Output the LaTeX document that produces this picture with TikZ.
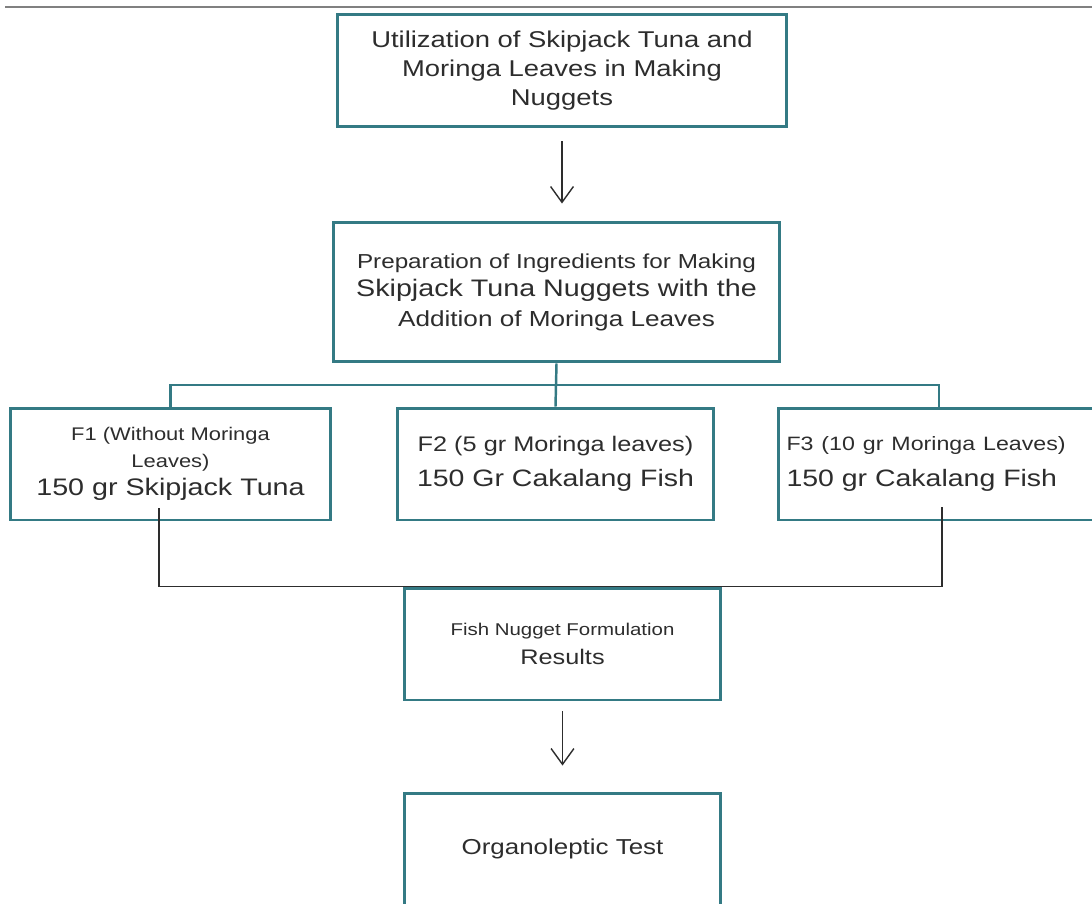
\documentclass[tikz,border=0pt]{standalone}
\usepackage{fontspec}
\setmainfont{Liberation Sans}[FakeStretch=1.2]
\usepackage{tikz}
\usetikzlibrary{arrows.meta}
\usetikzlibrary{calc}
\definecolor{boxteal}{RGB}{52,122,132}
\definecolor{inkgray}{RGB}{45,45,45}

\begin{document}
\begin{tikzpicture}[x=0.02cm,y=-0.02cm,
  flowbox/.style={draw=boxteal, line width=1.7pt, fill=white, align=center, inner sep=0pt, text=inkgray},
  busline/.style={boxteal, line width=1.4pt},
  mergeline/.style={inkgray, line width=0.8pt},
  downarrow/.style={inkgray, line width=0.8pt, -{Straight Barb[length=9pt,width=13pt]}}]
\clip (0,0) rectangle (1092,903);
\fill[white] (0,0) rectangle (1092,903);
\draw[gray, line width=1.2pt] (5,7) -- (1092,7);

% boxes
\node[flowbox, minimum width=9cm, minimum height=2.26cm, font=\fontsize{13}{16.5}\selectfont] (utiliz) at (562,70.5)
  {Utilization of Skipjack Tuna and\\ Moringa Leaves in Making\\ Nuggets};
\node[flowbox, minimum width=8.94cm, minimum height=2.8cm, font=\fontsize{13.6}{16}\selectfont] (prep) at (556.5,292)
  {{\fontsize{11.5}{14}\selectfont Preparation of Ingredients for Making}\\ Skipjack Tuna Nuggets with the\\[1pt] {\fontsize{12.4}{15}\selectfont Addition of Moringa Leaves}};
\node[flowbox, minimum width=6.42cm, minimum height=2.24cm, font=\fontsize{13.6}{15}\selectfont] (f1) at (170.5,464)
  {{\fontsize{10.4}{14}\selectfont F1 (Without Moringa}\\ {\fontsize{10.4}{14}\selectfont Leaves)}\\[1pt] 150 gr Skipjack Tuna};
\node[flowbox, minimum width=6.34cm, minimum height=2.24cm, font=\fontsize{13.5}{20}\selectfont] (f2) at (555.5,464)
  {{\fontsize{12}{14}\selectfont F2 (5 gr Moringa leaves)}\\ 150 Gr Cakalang Fish};
\node[flowbox, minimum width=6.44cm, minimum height=2.24cm, text width=6.1cm, align=left, font=\fontsize{13.5}{20}\selectfont] (f3) at (939,464)
  {{\fontsize{11}{14}\selectfont F3 (10 gr Moringa Leaves)}\\ 150 gr Cakalang Fish};
\node[flowbox, minimum width=6.34cm, minimum height=2.24cm, font=\fontsize{12}{16.5}\selectfont] (result) at (562.5,644)
  {{\fontsize{9.7}{12}\selectfont Fish Nugget Formulation}\\ Results};
\node[flowbox, minimum width=6.34cm, minimum height=2.24cm, font=\fontsize{12.3}{15}\selectfont] (organo) at (562.5,849)
  {Organoleptic Test};

% connectors
\coordinate (fork) at ($(prep.south)!0.5!(f2.north)$);
\coordinate (f1out) at (159,508);
\coordinate (f3out) at (942,507);
\draw[downarrow, shorten <=0.26cm, shorten >=0.34cm] (utiliz) -- (utiliz |- prep.north);
\draw[busline] (prep.south) -- (f2.north);
\draw[busline] (f1.north) |- (fork) -| (f3.north);
\draw[mergeline] (f1out) |- (result.north) -| (f3out);
\draw[downarrow, shorten <=0.2cm, shorten >=0.52cm] (result.south) -- (organo.north);
\end{tikzpicture}
\end{document}
